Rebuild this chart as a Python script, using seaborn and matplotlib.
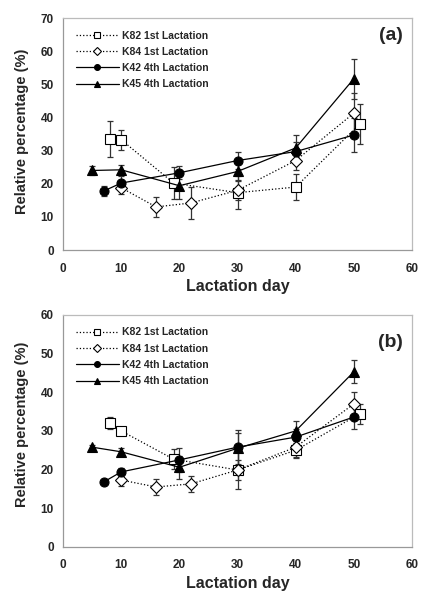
"""Relative percentage over lactation day, two panels."""

import matplotlib
matplotlib.use("Agg")
import matplotlib.pyplot as plt
import pandas as pd
import seaborn as sns

sns.set_theme(style="white")
plt.rcParams["font.family"] = ["Liberation Sans", "DejaVu Sans"]
plt.rcParams["font.weight"] = "bold"

labels = ["K82 1st Lactation", "K84 1st Lactation", "K42 4th Lactation", "K45 4th Lactation"]

days_k82 = [8, 10, 19, 30, 40, 51]
days_k84 = [10, 16, 22, 30, 40, 50]
days_k42 = [7, 10, 20, 30, 40, 50]
days_k45 = [5, 10, 20, 30, 40, 50]

# panel (a)
a_k82 = [33.5, 33.3, 20.2, 17.3, 19.0, 38.0]
a_k84 = [18.8, 13.0, 14.2, 18.0, 27.0, 41.3]
a_k42 = [17.8, 20.2, 23.3, 27.0, 29.7, 34.7]
a_k45 = [24.0, 24.2, 19.4, 23.7, 30.8, 51.7]
a_err_k82 = [5.5, 3.0, 4.8, 5.0, 4.0, 6.0]
a_err_k84 = [2.0, 3.0, 4.7, 3.0, 3.0, 6.0]
a_err_k42 = [1.5, 2.0, 2.0, 2.5, 3.0, 5.0]
a_err_k45 = [1.5, 1.5, 4.0, 3.0, 4.0, 6.0]

# panel (b)
b_k82 = [32.0, 30.0, 22.7, 19.9, 25.0, 34.4]
b_k84 = [17.3, 15.5, 16.3, 19.9, 25.8, 37.0]
b_k42 = [16.8, 19.4, 22.5, 25.8, 28.4, 33.6]
b_k45 = [25.8, 24.6, 20.6, 25.5, 30.0, 45.3]
b_err_k82 = [1.5, 0.5, 2.5, 5.0, 2.0, 2.5]
b_err_k84 = [1.5, 2.0, 2.0, 2.5, 2.5, 3.0]
b_err_k42 = [0.5, 1.0, 3.0, 4.5, 2.0, 3.0]
b_err_k45 = [0.5, 1.0, 3.0, 4.0, 2.5, 3.0]

styles = [
    dict(marker="s", ls=":", mfc="white", ms=7.5),
    dict(marker="D", ls=":", mfc="white", ms=6),
    dict(marker="o", ls="-", mfc="black", ms=6.5),
    dict(marker="^", ls="-", mfc="black", ms=7),
]
days = [days_k82, days_k84, days_k42, days_k45]


def draw_panel(ax, values, errors, ymax, tag, tag_y, label_y):
    for lab, x, y, e, st in zip(labels, days, values, errors, styles):
        ax.errorbar(x, y, yerr=e, fmt="none", ecolor="#333333", elinewidth=0.9,
                    capsize=2.5, capthick=0.9, zorder=1)
        df = pd.DataFrame({"day": x, "val": y})
        sns.lineplot(data=df, x="day", y="val", ax=ax, color="black", lw=0.9,
                     linestyle=st["ls"], marker=st["marker"], markersize=st["ms"],
                     markerfacecolor=st["mfc"], markeredgecolor="black",
                     markeredgewidth=0.8, label=lab, zorder=3)
    ax.set_xlim(0, 60)
    ax.set_ylim(0, ymax)
    ax.set_xticks(range(0, 61, 10))
    ax.set_yticks(range(0, ymax + 1, 10))
    ax.tick_params(axis="both", labelsize=8.5, length=3, color="#999999", direction="out")
    ax.tick_params(axis="x", pad=6)
    for lbl in ax.get_xticklabels() + ax.get_yticklabels():
        lbl.set_fontweight("bold")
    ax.set_xlabel("Lactation day", fontsize=11.5, fontweight="bold", labelpad=3)
    ax.set_ylabel("Relative percentage (%)", fontsize=10.5, fontweight="bold")
    ax.yaxis.set_label_coords(-0.098, label_y)
    for side in ["top", "right"]:
        ax.spines[side].set_color("#bbbbbb")
    for side in ["left", "bottom"]:
        ax.spines[side].set_color("#999999")
    for sp in ax.spines.values():
        sp.set_linewidth(0.9)
    ax.text(0.975, tag_y, tag, transform=ax.transAxes, ha="right", va="center",
            fontsize=14, fontweight="bold")
    leg = ax.legend(loc="upper left", frameon=False, fontsize=7.5, handlelength=4.2,
                    handletextpad=0.3, labelspacing=0.6, borderaxespad=0.8,
                    markerscale=0.65)
    for t in leg.get_texts():
        t.set_fontweight("bold")


fig = plt.figure(figsize=(4.36, 6.01), dpi=100)
ax_a = fig.add_axes([0.1445, 0.584, 0.8005, 0.386])
ax_b = fig.add_axes([0.1445, 0.090, 0.8005, 0.386])

draw_panel(ax_a, [a_k82, a_k84, a_k42, a_k45],
           [a_err_k82, a_err_k84, a_err_k42, a_err_k45], 70, "(a)", 0.925, 0.51)
draw_panel(ax_b, [b_k82, b_k84, b_k42, b_k45],
           [b_err_k82, b_err_k84, b_err_k42, b_err_k45], 60, "(b)", 0.88, 0.53)

fig.savefig("out.png", dpi=100)
